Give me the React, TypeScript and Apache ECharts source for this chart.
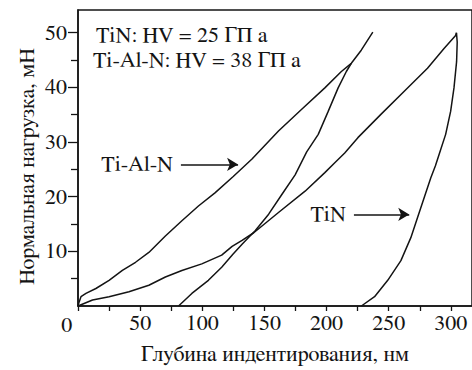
import React, { useEffect, useRef } from "react";
import * as echarts from "echarts";

const FONT = "FreeSerif";
const FONT_SIZE = 22;
const INK = "#141414";

// Ti-Al-N coating: loading branch (depth, nm / load, mN)
const tialnLoadDepth = [0, 1, 2.4, 6.4, 14.4, 25, 35.7, 46.3, 57, 70.3, 83.6, 96.9, 110.2, 124.9, 140, 161.3, 180, 198.6, 211.9, 219.9, 227.9, 237.2];
const tialnLoadForce = [0, 0.8, 1.7, 2.3, 3.2, 4.7, 6.5, 8.0, 9.8, 12.8, 15.6, 18.3, 20.7, 23.7, 26.9, 32.0, 36.0, 39.9, 42.9, 44.4, 46.8, 50.1];

// Ti-Al-N coating: unloading branch
const tialnUnloadDepth = [219.9, 215.9, 209.3, 201.3, 193.3, 184, 174.7, 164, 153.4, 142.7, 132, 124.8, 115.6, 104.9, 91.6, 80.9];
const tialnUnloadForce = [44.4, 42.9, 39.9, 35.6, 31.4, 28.2, 24.0, 20.4, 16.8, 13.8, 11.3, 9.5, 7.1, 4.7, 2.3, 0];

// TiN coating: loading branch
const tinLoadDepth = [0, 11.7, 25, 41, 57, 70.3, 83.6, 99.6, 115.6, 124, 132, 141.4, 161.3, 182.7, 198.6, 206.6, 214.6, 225.2, 243.9, 262.5, 281.2, 294.5, 303.8, 304.5];
const tinLoadForce = [0, 1.1, 1.7, 2.6, 3.8, 5.3, 6.5, 7.7, 9.3, 10.9, 12.0, 13.4, 17.1, 21.0, 24.4, 26.2, 28.0, 30.8, 35.1, 39.3, 43.5, 47.1, 49.5, 50.0];

// TiN coating: unloading branch
const tinUnloadDepth = [304.5, 305.1, 304.6, 302.5, 299.8, 295.8, 291.5, 287.5, 283.8, 278.5, 273.2, 267.8, 259.8, 249.2, 238.6, 228];
const tinUnloadForce = [50.0, 48.3, 44.7, 39.9, 35.6, 31.4, 28.4, 25.6, 23.4, 19.8, 16.2, 12.5, 8.3, 4.7, 1.7, 0];

// Axis ticks and labels
const xTickValues = [0, 25, 50, 75, 100, 125, 150, 175, 200, 225, 250, 275, 300];
const xLabelValues = [50, 100, 150, 200, 250, 300];
const yMajorValues = [10, 20, 30, 40, 50];
const yMinorValues = [5, 15, 25, 35, 45];

// Arrow annotations: label, start depth, end depth, load
const tialnArrow = { label: "Ti-Al-N", from: 82.8, to: 128.8, load: 25.9 };
const tinArrow = { label: "TiN", from: 222, to: 266.5, load: 16.75 };

const hardnessLines = ["TiN: HV = 25 ГП а", "Ti-Al-N: HV = 38 ГП а"];
const xTitle = "Глубина индентирования, нм";
const yTitle = "Нормальная нагрузка, мН";

const pairs = (xs: number[], ys: number[]) => xs.map((x, i) => [x, ys[i]]);

const arrowMarkLine = (a: { label: string; from: number; to: number; load: number }) => ({
  silent: true,
  animation: false,
  symbol: ["none", "arrow"],
  symbolSize: [10, 11],
  lineStyle: { type: "solid", color: INK, width: 1.5 },
  label: {
    show: true,
    position: "start",
    distance: 8,
    formatter: a.label,
    color: INK,
    fontSize: FONT_SIZE,
    fontFamily: FONT,
  },
  emphasis: { disabled: true },
  data: [[{ coord: [a.from, a.load] }, { coord: [a.to, a.load] }]],
});

const textStyle = (text: string, align: string) => ({
  text,
  fill: INK,
  fontSize: FONT_SIZE,
  fontFamily: FONT,
  align,
  verticalAlign: "middle",
});

export default function App() {
  const ref = useRef<HTMLDivElement>(null);

  useEffect(() => {
    if (!ref.current) return;
    const chart = echarts.init(ref.current, null, { renderer: "svg" });

    const curve = (name: string, xs: number[], ys: number[], extra: any = {}) => ({
      name,
      type: "line",
      data: pairs(xs, ys),
      showSymbol: false,
      symbol: "none",
      smooth: false,
      lineStyle: { color: INK, width: 1.5 },
      emphasis: { disabled: true },
      z: 3,
      ...extra,
    });

    const labelStyle = { fontSize: FONT_SIZE, fontFamily: FONT, color: INK };

    chart.setOption({
      animation: false,
      backgroundColor: "#ffffff",
      textStyle: { fontFamily: FONT },
      grid: {
        left: 78,
        top: 10,
        right: -3,
        bottom: 60,
        show: true,
        borderColor: INK,
        borderWidth: 1.5,
      },
      xAxis: {
        type: "value",
        min: 0,
        max: 317,
        interval: 25,
        axisLine: { show: true, lineStyle: { color: INK, width: 1.5 } },
        axisTick: { show: true, inside: false, length: 5, customValues: xTickValues, lineStyle: { color: INK, width: 1.3 } },
        axisLabel: { ...labelStyle, margin: 6, customValues: xLabelValues },
        splitLine: { show: false },
        name: xTitle,
        nameLocation: "middle",
        nameGap: 37,
        nameTextStyle: { ...labelStyle },
      },
      yAxis: [
        {
          type: "value",
          min: 0,
          max: 54.15,
          interval: 10,
          axisLine: { show: true, lineStyle: { color: INK, width: 1.5 } },
          axisTick: { show: true, inside: false, length: 10, customValues: yMajorValues, lineStyle: { color: INK, width: 1.3 } },
          axisLabel: { ...labelStyle, margin: 11, customValues: yMajorValues },
          splitLine: { show: false },
        },
        {
          type: "value",
          min: 0,
          max: 54.15,
          interval: 5,
          position: "left",
          axisLine: { show: false },
          axisTick: { show: true, inside: false, length: 7, customValues: yMinorValues, lineStyle: { color: INK, width: 1.3 } },
          axisLabel: { show: false },
          splitLine: { show: false },
        },
      ],
      graphic: [
        { type: "text", x: 66.7, y: 325, silent: true, style: textStyle("0", "center") },
        { type: "text", x: 27, y: 166.5, rotation: Math.PI / 2, silent: true, style: textStyle(yTitle, "center") },
        { type: "text", x: 96, y: 35, silent: true, style: textStyle(hardnessLines[0], "left") },
        { type: "text", x: 93, y: 60, silent: true, style: textStyle(hardnessLines[1], "left") },
      ],
      series: [
        curve("Ti-Al-N нагружение", tialnLoadDepth, tialnLoadForce, { markLine: arrowMarkLine(tialnArrow) }),
        curve("Ti-Al-N разгрузка", tialnUnloadDepth, tialnUnloadForce),
        curve("TiN нагружение", tinLoadDepth, tinLoadForce),
        curve("TiN разгрузка", tinUnloadDepth, tinUnloadForce, { markLine: arrowMarkLine(tinArrow) }),
      ],
    });

    return () => chart.dispose();
  }, []);

  return <div ref={ref} style={{ width: 472, height: 370, position: "absolute", left: 0, top: 0 }} />;
}
